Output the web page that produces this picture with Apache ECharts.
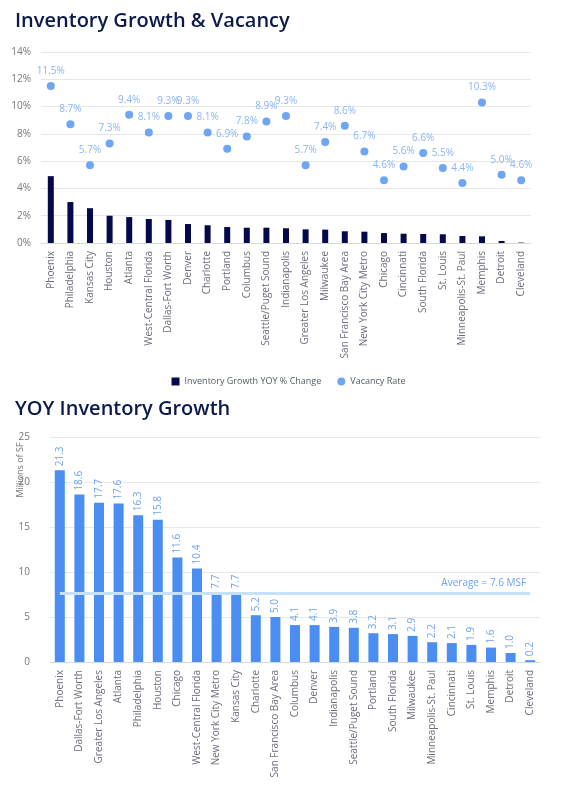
<!DOCTYPE html>
<html lang="en">
<head>
    <meta charset="UTF-8">
    <title>Inventory Growth & Vacancy</title>
    <style>
        html, body { margin: 0; padding: 0; background: #fff; }
        #main { width: 577px; height: 796px; }
    </style>
</head>
<body>
    <div id="main"></div>
    <script src="https://cdn.jsdelivr.net/npm/echarts@6/dist/echarts.min.js"></script>
    <script>
        // top chart: inventory growth vs vacancy
        var topCities = ['Phoenix', 'Philadelphia', 'Kansas City', 'Houston', 'Atlanta', 'West-Central Florida',
            'Dallas-Fort Worth', 'Denver', 'Charlotte', 'Portland', 'Columbus', 'Seattle/Puget Sound',
            'Indianapolis', 'Greater Los Angeles', 'Milwaukee', 'San Francisco Bay Area', 'New York City Metro',
            'Chicago', 'Cincinnati', 'South Florida', 'St. Louis', 'Minneapolis-St. Paul', 'Memphis', 'Detroit', 'Cleveland']
        var growthPct = [4.9, 3.0, 2.55, 2.0, 1.9, 1.76, 1.69, 1.39, 1.3, 1.17, 1.12, 1.12,
            1.08, 1.0, 0.98, 0.86, 0.83, 0.73, 0.68, 0.66, 0.64, 0.51, 0.49, 0.15, 0.03]
        var vacancyPct = [11.5, 8.7, 5.7, 7.3, 9.4, 8.1, 9.3, 9.3, 8.1, 6.9, 7.8, 8.9,
            9.3, 5.7, 7.4, 8.6, 6.7, 4.6, 5.6, 6.6, 5.5, 4.4, 10.3, 5.0, 4.6]

        // bottom chart: yoy inventory growth, millions of sf
        var yoyCities = ['Phoenix', 'Dallas-Fort Worth', 'Greater Los Angeles', 'Atlanta', 'Philadelphia', 'Houston',
            'Chicago', 'West-Central Florida', 'New York City Metro', 'Kansas City', 'Charlotte',
            'San Francisco Bay Area', 'Columbus', 'Denver', 'Indianapolis', 'Seattle/Puget Sound', 'Portland',
            'South Florida', 'Milwaukee', 'Minneapolis-St. Paul', 'Cincinnati', 'St. Louis', 'Memphis', 'Detroit', 'Cleveland']
        var yoyMsf = [21.3, 18.6, 17.7, 17.6, 16.3, 15.8, 11.6, 10.4, 7.7, 7.7, 5.2,
            5.0, 4.1, 4.1, 3.9, 3.8, 3.2, 3.1, 2.9, 2.2, 2.1, 1.9, 1.6, 1.0, 0.2]
        var avgMsf = 7.6

        var navy = '#05084a'
        var blue = '#4a8ef2'
        var labelBlue = '#6fa2f0'
        var axisGray = '#6b6d7a'
        var font = 'Open Sans'

        var chart = echarts.init(document.getElementById('main'))
        chart.setOption({
            textStyle: { fontFamily: font },
            animation: false,
            title: [
                {
                    text: 'Inventory Growth & Vacancy',
                    left: 10, top: 6,
                    textStyle: { fontFamily: font, fontSize: 20, fontWeight: 600, color: '#0b1a4b' }
                },
                {
                    text: 'YOY Inventory Growth',
                    left: 10, top: 394,
                    textStyle: { fontFamily: font, fontSize: 20, fontWeight: 600, color: '#0b1a4b' }
                }
            ],
            legend: {
                top: 372,
                left: 'center',
                itemGap: 16,
                itemWidth: 8,
                itemHeight: 8,
                textStyle: { fontSize: 9, color: '#555a66', fontFamily: font },
                data: [
                    { name: 'Inventory Growth YOY % Change', icon: 'rect' },
                    { name: 'Vacancy Rate', icon: 'circle', itemStyle: { color: blue } }
                ]
            },
            grid: [
                { left: 41, right: 46, top: 52, height: 191 },
                { left: 50, right: 37, top: 437, height: 225 }
            ],
            xAxis: [
                {
                    gridIndex: 0,
                    type: 'category',
                    data: topCities,
                    axisTick: { show: false },
                    axisLine: { lineStyle: { color: '#d9d9d9' } },
                    axisLabel: { rotate: 90, interval: 0, fontSize: 10, color: axisGray, margin: 8 }
                },
                {
                    gridIndex: 1,
                    type: 'category',
                    data: yoyCities,
                    axisTick: { show: false },
                    axisLine: { lineStyle: { color: '#d9d9d9' } },
                    axisLabel: { rotate: 90, interval: 0, fontSize: 10, color: axisGray, margin: 8 }
                }
            ],
            yAxis: [
                {
                    gridIndex: 0,
                    type: 'value',
                    min: 0, max: 14, interval: 2,
                    axisLabel: { formatter: '{value}%', fontSize: 10, color: '#777', margin: 10 },
                    splitLine: { lineStyle: { color: '#e8e8e8' } }
                },
                {
                    gridIndex: 1,
                    type: 'value',
                    min: 0, max: 25, interval: 5,
                    axisLabel: { fontSize: 10, color: '#777', margin: 20 },
                    splitLine: { lineStyle: { color: '#e8e8e8' } }
                }
            ],
            graphic: [
                {
                    type: 'text',
                    x: 20, y: 470,
                    rotation: Math.PI / 2,
                    style: {
                        text: 'Millions of SF',
                        fill: '#777',
                        font: '9px "Open Sans"',
                        align: 'center',
                        verticalAlign: 'middle'
                    }
                }
            ],
            series: [
                {
                    name: 'Inventory Growth YOY % Change',
                    type: 'bar',
                    xAxisIndex: 0, yAxisIndex: 0,
                    data: growthPct,
                    barWidth: 6,
                    itemStyle: { color: navy }
                },
                {
                    name: 'Vacancy Rate',
                    type: 'scatter',
                    xAxisIndex: 0, yAxisIndex: 0,
                    data: vacancyPct,
                    symbolSize: 8,
                    itemStyle: { color: blue },
                    label: {
                        show: true,
                        position: 'top',
                        distance: 6,
                        fontSize: 10,
                        color: labelBlue,
                        formatter: function (p) { return p.value.toFixed(1) + '%' }
                    }
                },
                {
                    name: 'YOY Inventory Growth',
                    type: 'bar',
                    xAxisIndex: 1, yAxisIndex: 1,
                    data: yoyMsf,
                    barWidth: 10,
                    itemStyle: { color: blue },
                    label: {
                        show: true,
                        position: 'top',
                        rotate: 90,
                        align: 'left',
                        verticalAlign: 'middle',
                        distance: 4,
                        fontSize: 10,
                        color: labelBlue,
                        formatter: function (p) { return p.value.toFixed(1) }
                    },
                    markLine: {
                        symbol: 'none',
                        silent: true,
                        lineStyle: { color: '#c5e0fa', width: 3, type: 'solid' },
                        label: {
                            position: 'insideEndTop',
                            formatter: 'Average = ' + avgMsf + ' MSF',
                            color: labelBlue,
                            fontSize: 10,
                            distance: [4, 5]
                        },
                        data: [[
                            { coord: [0, avgMsf] },
                            { coord: [yoyCities.length - 1, avgMsf] }
                        ]]
                    }
                }
            ]
        })
    </script>
</body>
</html>
